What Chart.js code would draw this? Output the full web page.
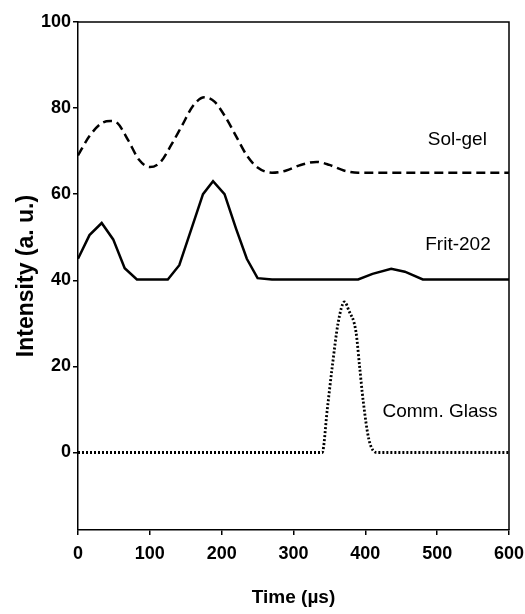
<!DOCTYPE html>
<html>
<head>
<meta charset="UTF-8">
<title>Intensity vs Time</title>
<script src="https://cdn.jsdelivr.net/npm/chart.js@4/dist/chart.umd.min.js"></script>
<style>
  body { margin: 0; background: #fff; }
  #wrap { width: 525px; height: 614px; }
</style>
</head>
<body>
<div id="wrap"><canvas id="myChart"></canvas></div>
<script>
// data
var solGelTime = [0, 16, 33, 45, 55, 70, 85, 100, 115, 130, 145, 160, 176, 190, 205, 220, 235, 250, 270, 290, 310, 332, 350, 370, 390, 600];
var solGelValue = [69, 73.5, 76.5, 77, 76.5, 72.5, 68, 66.3, 67.5, 71.5, 76, 80.5, 82.5, 81.5, 78, 73.5, 69, 66.2, 65, 65.5, 66.8, 67.5, 66.8, 65.5, 65, 65];

var fritTime = [0, 16, 33, 49, 65, 82, 125, 141, 158, 174, 188, 204, 220, 235, 250, 270, 390, 410, 436, 455, 480, 600];
var fritValue = [45, 50.5, 53.3, 49.5, 42.8, 40.2, 40.2, 43.5, 52, 60, 63, 60, 52, 45, 40.5, 40.2, 40.2, 41.5, 42.7, 42, 40.2, 40.2];

var glassTime = [0, 340, 347, 354, 362, 371, 377, 387, 392, 397, 405, 416, 600];
var glassValue = [0, 0, 10, 20, 30, 35, 33, 28, 20, 12, 3, 0, 0];

var seriesNames = ['Sol-gel', 'Frit-202', 'Comm. Glass'];
var xTicks = [0, 100, 200, 300, 400, 500, 600];
var yTicks = [0, 20, 40, 60, 80, 100];

function toPoints(xs, ys) {
    var pts = [];
    for (var i = 0; i < xs.length; i++) pts.push({ x: xs[i], y: ys[i] });
    return pts;
}

// where the series names sit, in data units
var nameAnchors = [[528, 72.6], [529, 48.3], [504, 9.5]];

var boxAndNames = {
    id: 'boxAndNames',
    afterDatasetsDraw: function (chart) {
        var ctx = chart.ctx, a = chart.chartArea;
        var xs = chart.scales.x, ys = chart.scales.y;
        ctx.save();
        ctx.strokeStyle = '#000';
        ctx.lineWidth = 1.5;
        ctx.beginPath();
        ctx.moveTo(a.left, a.top);
        ctx.lineTo(a.right, a.top);
        ctx.lineTo(a.right, a.bottom);
        ctx.stroke();
        ctx.fillStyle = '#000';
        ctx.font = '19px "Liberation Sans", Arial, sans-serif';
        ctx.textAlign = 'center';
        ctx.textBaseline = 'middle';
        for (var i = 0; i < seriesNames.length; i++) {
            ctx.fillText(seriesNames[i], xs.getPixelForValue(nameAnchors[i][0]), ys.getPixelForValue(nameAnchors[i][1]));
        }
        ctx.restore();
    }
};

var tickFont = { family: '"Liberation Sans", Arial, sans-serif', size: 18, weight: 'bold' };

var ctx = document.getElementById('myChart').getContext('2d');
var chart = new Chart(ctx, {
    type: 'line',
    data: {
        datasets: [
            {
                label: seriesNames[0],
                data: toPoints(solGelTime, solGelValue),
                borderColor: '#000',
                borderWidth: 2.5,
                borderDash: [9, 5],
                cubicInterpolationMode: 'monotone',
                pointRadius: 0
            },
            {
                label: seriesNames[1],
                data: toPoints(fritTime, fritValue),
                borderColor: '#000',
                borderWidth: 2.5,
                tension: 0,
                pointRadius: 0
            },
            {
                label: seriesNames[2],
                data: toPoints(glassTime, glassValue),
                borderColor: '#000',
                borderWidth: 2.8,
                borderDash: [2, 2],
                cubicInterpolationMode: 'monotone',
                pointRadius: 0
            }
        ]
    },
    options: {
        responsive: true,
        maintainAspectRatio: false,
        animation: false,
        layout: { padding: { top: 22, right: 16, left: 9, bottom: 1 } },
        plugins: { legend: { display: false }, tooltip: { enabled: false } },
        scales: {
            x: {
                type: 'linear',
                min: 0,
                max: 600,
                afterBuildTicks: function (s) { s.ticks = xTicks.map(function (v) { return { value: v }; }); },
                afterFit: function (s) { s.height = 83; s.paddingRight = 0; },
                grid: { display: true, drawOnChartArea: false, drawTicks: true, tickLength: 5, color: '#000', lineWidth: 1.5 },
                border: { display: true, color: '#000', width: 1.5 },
                ticks: { color: '#000', font: tickFont, padding: 8, maxRotation: 0 },
                title: { display: true, text: 'Time (\u00b5s)', color: '#000', font: { family: tickFont.family, size: 19, weight: 'bold' } }
            },
            y: {
                min: -18,
                max: 100,
                afterBuildTicks: function (s) { s.ticks = yTicks.map(function (v) { return { value: v }; }); },
                afterFit: function (s) { s.width = 69; },
                grid: { display: true, drawOnChartArea: false, drawTicks: true, tickLength: 5, color: '#000', lineWidth: 1.5 },
                border: { display: true, color: '#000', width: 1.5 },
                ticks: { color: '#000', font: tickFont, padding: 2 },
                title: { display: true, text: 'Intensity (a. u.)', color: '#000', font: { family: tickFont.family, size: 23, weight: 'bold' } }
            }
        }
    },
    plugins: [boxAndNames]
});
</script>
</body>
</html>
